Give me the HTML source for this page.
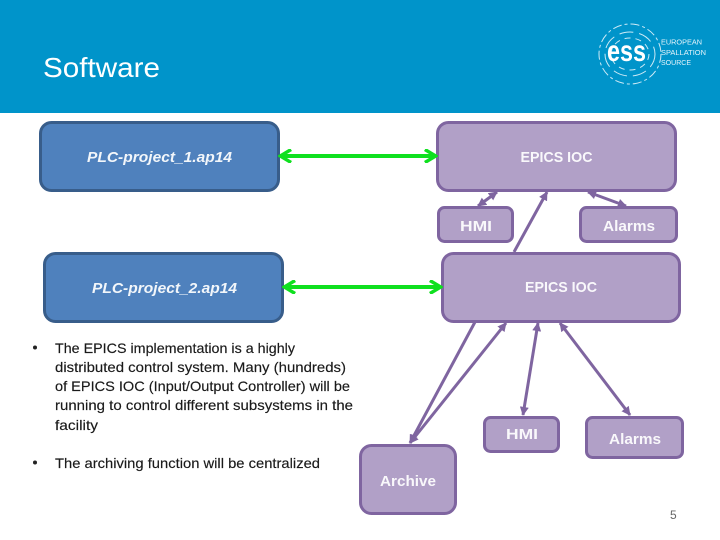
<!DOCTYPE html>
<html><head><meta charset="utf-8"><style>
html,body{margin:0;padding:0;background:#fff;width:720px;height:540px;overflow:hidden}
svg{display:block}
text{font-family:"Liberation Sans",sans-serif}
.w{fill:#fff;font-size:15px;font-weight:bold;text-anchor:middle;opacity:.93}
.i{font-style:italic}
.b{fill:#1a1a1a;font-size:14px;stroke:#1a1a1a;stroke-width:.15px}
</style></head><body>
<svg width="720" height="540" viewBox="0 0 720 540" xmlns="http://www.w3.org/2000/svg">
<defs>
<marker id="g" viewBox="0 0 10 10" refX="8" refY="5" markerWidth="3.6" markerHeight="3.6" orient="auto-start-reverse"><path d="M1 0.5L8.5 5L1 9.5" fill="none" stroke="#0fe01f" stroke-width="2.4"/></marker>
<marker id="p" viewBox="0 0 10 10" refX="9" refY="5" markerWidth="3" markerHeight="3" orient="auto-start-reverse"><path d="M0 0L10 5L0 10Z" fill="#7f65a0"/></marker>
</defs>
<rect width="720" height="113" fill="#0094ca"/>
<text x="43" y="77" font-size="28" fill="#fff" textLength="117" lengthAdjust="spacingAndGlyphs">Software</text>
<g fill="none" stroke="#cdeaf6" stroke-width="1">
<ellipse cx="630" cy="54" rx="31" ry="30" stroke-dasharray="9 3 3 3"/>
<ellipse cx="630" cy="54" rx="25" ry="22" stroke-dasharray="14 6"/>
<ellipse cx="630" cy="54" rx="19" ry="16" stroke-dasharray="6 5"/>
</g>
<text x="607" y="61" font-size="30" font-weight="bold" fill="#fff" textLength="39" lengthAdjust="spacingAndGlyphs">ess</text>
<g fill="#e4f4fb" font-size="7">
<text x="661" y="44.500" textLength="41" lengthAdjust="spacingAndGlyphs">EUROPEAN</text>
<text x="661" y="55" textLength="45" lengthAdjust="spacingAndGlyphs">SPALLATION</text>
<text x="661" y="65" textLength="30" lengthAdjust="spacingAndGlyphs">SOURCE</text>
</g>

<g fill="#4f81bd" stroke="#385d8a" stroke-width="3">
<rect x="40.5" y="122.5" width="238" height="68" rx="11"/>
<rect x="44.5" y="253.5" width="238" height="68" rx="11"/>
</g>
<g fill="#b1a0c7" stroke="#7f65a0" stroke-width="3">
<rect x="437.5" y="122.5" width="238" height="68" rx="11"/>
<rect x="438.5" y="207.5" width="74" height="34" rx="6"/>
<rect x="580.5" y="207.5" width="96" height="34" rx="6"/>
<rect x="442.5" y="253.5" width="237" height="68" rx="11"/>
<rect x="484.5" y="417.5" width="74" height="34" rx="6"/>
<rect x="586.5" y="417.5" width="96" height="40" rx="6"/>
<rect x="360.5" y="445.5" width="95" height="68" rx="11"/>
</g>

<g stroke="#0fe01f" stroke-width="4" fill="none">
<line x1="281" y1="156" x2="435" y2="156" marker-start="url(#g)" marker-end="url(#g)"/>
<line x1="285" y1="287" x2="440" y2="287" marker-start="url(#g)" marker-end="url(#g)"/>
</g>
<g stroke="#7f65a0" stroke-width="3" fill="none">
<line x1="497" y1="192" x2="478" y2="206" marker-start="url(#p)" marker-end="url(#p)"/>
<line x1="547" y1="192" x2="514" y2="252" marker-start="url(#p)"/>
<line x1="588" y1="192" x2="626" y2="206" marker-start="url(#p)" marker-end="url(#p)"/>
<line x1="475" y1="322" x2="410" y2="443" marker-end="url(#p)"/>
<line x1="506" y1="323" x2="410" y2="443" marker-start="url(#p)" marker-end="url(#p)"/>
<line x1="538" y1="323" x2="523" y2="415" marker-start="url(#p)" marker-end="url(#p)"/>
<line x1="560" y1="323" x2="630" y2="415" marker-start="url(#p)" marker-end="url(#p)"/>
</g>

<text class="w i" x="159.500" y="162" textLength="145" lengthAdjust="spacingAndGlyphs">PLC-project_1.ap14</text>
<text class="w i" x="164.500" y="293" textLength="145" lengthAdjust="spacingAndGlyphs">PLC-project_2.ap14</text>
<text class="w" x="556.500" y="162" textLength="72" lengthAdjust="spacingAndGlyphs">EPICS IOC</text>
<text class="w" x="561" y="292" textLength="72" lengthAdjust="spacingAndGlyphs">EPICS IOC</text>
<text class="w" x="476" y="231" textLength="32" lengthAdjust="spacingAndGlyphs">HMI</text>
<text class="w" x="629" y="231" textLength="52" lengthAdjust="spacingAndGlyphs">Alarms</text>
<text class="w" x="522" y="439" textLength="32" lengthAdjust="spacingAndGlyphs">HMI</text>
<text class="w" x="635" y="444" textLength="52" lengthAdjust="spacingAndGlyphs">Alarms</text>
<text class="w" x="408" y="486" textLength="56" lengthAdjust="spacingAndGlyphs">Archive</text>

<circle cx="35" cy="347.500" r="2" fill="#222"/>
<circle cx="35" cy="462.500" r="2" fill="#222"/>
<text class="b" x="55" y="353" textLength="240" lengthAdjust="spacingAndGlyphs">The EPICS implementation is a highly</text>
<text class="b" x="55" y="372" textLength="291" lengthAdjust="spacingAndGlyphs">distributed control system. Many (hundreds)</text>
<text class="b" x="55" y="391" textLength="295" lengthAdjust="spacingAndGlyphs">of EPICS IOC (Input/Output Controller) will be</text>
<text class="b" x="55" y="410" textLength="298" lengthAdjust="spacingAndGlyphs">running to control different subsystems in the</text>
<text class="b" x="55" y="430" textLength="43" lengthAdjust="spacingAndGlyphs">facility</text>
<text class="b" x="55" y="468" textLength="265" lengthAdjust="spacingAndGlyphs">The archiving function will be centralized</text>
<text x="670" y="519" font-size="12" fill="#666">5</text>
</svg>
</body></html>
